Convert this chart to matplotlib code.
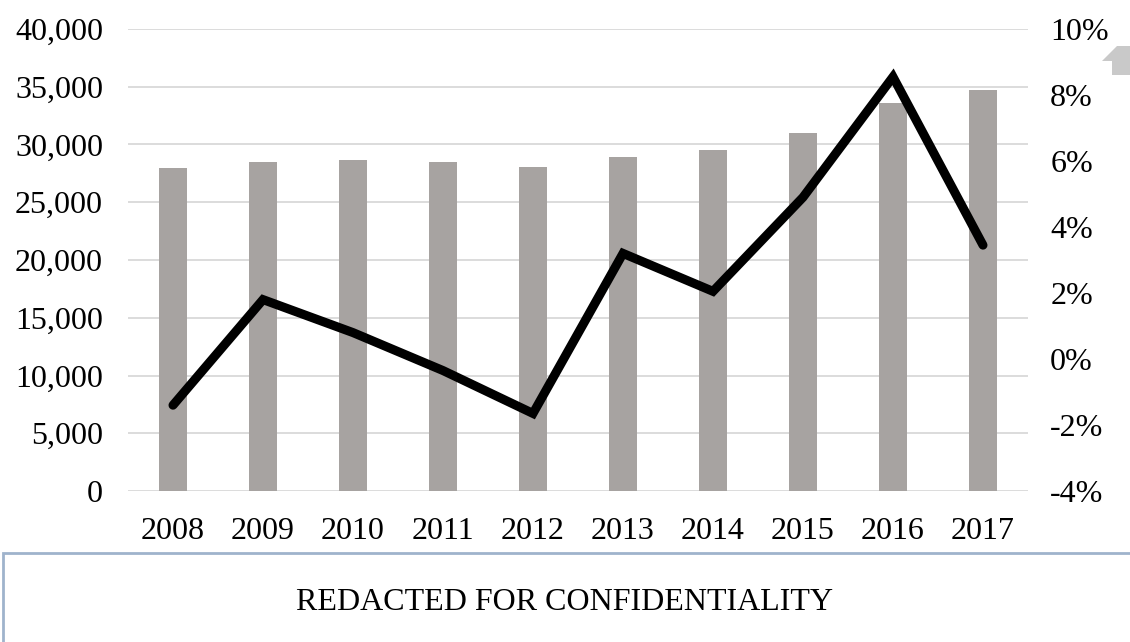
import matplotlib.pyplot as plt
from matplotlib.patches import Rectangle, Polygon
from matplotlib.ticker import FuncFormatter


years = ["2008", "2009", "2010", "2011", "2012", "2013", "2014", "2015", "2016", "2017"]
volumes = [28000, 28450, 28650, 28500, 28050, 28900, 29500, 31000, 33600, 34700]
growth_pct = [-1.4, 1.8, 0.8, -0.35, -1.65, 3.2, 2.05, 4.9, 8.55, 3.45]

BAR_COLOR = "#a7a3a1"
GRID_COLOR = "#d9d9d9"
FONT = "Liberation Serif"


def main():
    plt.rcParams["font.family"] = [FONT, "DejaVu Serif"]

    fig = plt.figure(figsize=(11.3, 6.42), dpi=100)
    ax = fig.add_axes([128 / 1130, 151 / 642, 900 / 1130, 462 / 642])

    x = list(range(len(years)))
    ax.bar(x, volumes, width=0.31, color=BAR_COLOR, zorder=2)

    ax.set_xlim(-0.5, len(years) - 0.5)
    ax.set_ylim(0, 40000)
    ax.set_yticks(range(0, 40001, 5000))
    ax.yaxis.set_major_formatter(FuncFormatter(lambda v, _: f"{int(v):,}"))
    ax.set_xticks(x)
    ax.set_xticklabels(years)
    ax.grid(axis="y", color=GRID_COLOR, linewidth=1.3, zorder=0)
    ax.tick_params(axis="y", length=0, pad=18, labelsize=23)
    ax.tick_params(axis="x", length=0, pad=19, labelsize=23)
    for spine in ax.spines.values():
        spine.set_visible(False)

    ax2 = ax.twinx()
    ax2.plot(x, growth_pct, color="black", linewidth=6.5,
             solid_joinstyle="miter", solid_capstyle="round", zorder=3)
    ax2.set_ylim(-4, 10)
    ax2.set_yticks(range(-4, 11, 2))
    ax2.yaxis.set_major_formatter(FuncFormatter(lambda v, _: f"{int(v)}%"))
    ax2.tick_params(axis="y", length=0, pad=16, labelsize=23)
    for spine in ax2.spines.values():
        spine.set_visible(False)

    # redaction box under the chart
    box = Rectangle((3 / 1130, -0.05), 1.1, (642 - 553) / 642 + 0.05,
                    transform=fig.transFigure, fill=False,
                    edgecolor="#9fb3cc", linewidth=2)
    fig.patches.append(box)
    fig.text(0.5, (642 - 603) / 642, "REDACTED FOR CONFIDENTIALITY",
             ha="center", va="center", fontsize=23)

    # clipped arrow icon at top right
    pts = [(1102, 61), (1117, 46), (1130, 46), (1130, 75), (1112, 75), (1112, 61)]
    arrow = Polygon([(px / 1130, 1 - py / 642) for px, py in pts],
                    closed=True, transform=fig.transFigure,
                    facecolor="#c9c9c9", edgecolor="none")
    fig.patches.append(arrow)

    fig.savefig("out.png", dpi=100)


if __name__ == "__main__":
    main()
